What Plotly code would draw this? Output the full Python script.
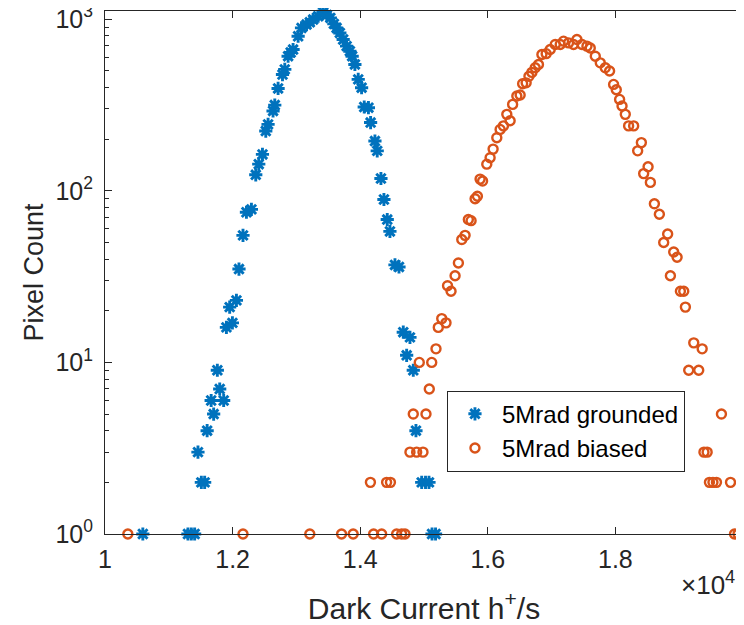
import plotly.graph_objects as go

# Dark current (units of 1e4 h+/s) and pixel counts
grounded_x = [1.0593, 1.1300, 1.1353, 1.1405, 1.1457, 1.1510, 1.1562, 1.1601, 1.1664, 1.1703,
              1.1761, 1.1798, 1.1860, 1.1903, 1.1954, 1.1997, 1.2060, 1.2100, 1.2163, 1.2217,
              1.2295, 1.2363, 1.2410, 1.2468, 1.2520, 1.2556, 1.2634, 1.2661, 1.2713, 1.2782,
              1.2818, 1.2870, 1.2910, 1.2948, 1.3027, 1.3080, 1.3159, 1.3210, 1.3262, 1.3341,
              1.3419, 1.3477, 1.3532, 1.3587, 1.3630, 1.3681, 1.3733, 1.3787, 1.3838, 1.3874,
              1.3917, 1.3969, 1.4022, 1.4063, 1.4129, 1.4163, 1.4231, 1.4267, 1.4325, 1.4372,
              1.4424, 1.4466, 1.4545, 1.4608, 1.4675, 1.4728, 1.4780, 1.4832, 1.4874, 1.4964,
              1.5024, 1.5078, 1.5126, 1.5181]
grounded_count = [1, 1, 1, 1, 3, 2, 2, 4, 6, 5,
                  9, 7, 6, 16, 21, 17, 23, 35, 55, 75,
                  78, 124, 143, 163, 223, 244, 292, 316, 395, 476,
                  510, 609, 640, 666, 796, 890, 931, 960, 996, 1041,
                  1100, 1060, 1018, 940, 890, 832, 762, 697, 651, 609,
                  545, 446, 399, 308, 305, 250, 195, 171, 118, 89,
                  68, 58, 37, 36, 15, 11, 14, 9, 4, 2,
                  2, 2, 1, 1]

biased_x = [1.0358, 1.2163, 1.3210, 1.3708, 1.3890, 1.4160, 1.4210, 1.4336, 1.4414, 1.4474,
            1.4571, 1.4650, 1.4702, 1.4780, 1.4832, 1.4885, 1.4926, 1.4984, 1.5031, 1.5083,
            1.5121, 1.5188, 1.5224, 1.5278, 1.5345, 1.5369, 1.5424, 1.5487, 1.5539, 1.5592,
            1.5644, 1.5695, 1.5738, 1.5801, 1.5837, 1.5879, 1.5918, 1.5984, 1.6036, 1.6083,
            1.6141, 1.6193, 1.6245, 1.6298, 1.6350, 1.6389, 1.6455, 1.6507, 1.6546, 1.6601,
            1.6645, 1.6691, 1.6743, 1.6794, 1.6848, 1.6915, 1.6978, 1.7057, 1.7135, 1.7187,
            1.7265, 1.7344, 1.7397, 1.7476, 1.7554, 1.7606, 1.7685, 1.7763, 1.7841, 1.7909,
            1.7972, 1.8014, 1.8066, 1.8104, 1.8155, 1.8207, 1.8286, 1.8349, 1.8407, 1.8443,
            1.8512, 1.8548, 1.8611, 1.8689, 1.8757, 1.8819, 1.8862, 1.8914, 1.8967, 1.9019,
            1.9071, 1.9097, 1.9149, 1.9228, 1.9306, 1.9360, 1.9388, 1.9438, 1.9474, 1.9529,
            1.9584, 1.9662, 1.9804, 1.9867, 1.9922, 1.9976]
biased_count = [1, 1, 1, 1, 1, 2, 1, 1, 2, 2,
                1, 1, 1, 3, 5, 3, 10, 3, 5, 7,
                10, 12, 16, 18, 17, 28, 26, 32, 38, 52,
                55, 68, 67, 90, 93, 117, 114, 143, 156, 175,
                204, 228, 239, 279, 256, 319, 357, 362, 421, 426,
                465, 490, 521, 545, 623, 630, 666, 713, 713, 745,
                728, 713, 762, 713, 697, 680, 609, 557, 521, 499,
                417, 388, 341, 312, 279, 239, 239, 171, 191, 126,
                138, 112, 84, 73, 50, 56, 32, 44, 41, 26,
                26, 21, 9, 13, 9, 12, 3, 3, 2, 2,
                2, 5, 2, 1, 1, 1]

x_ticks = [1.0, 1.2, 1.4, 1.6, 1.8, 2.0]
x_ticktext = ["1", "1.2", "1.4", "1.6", "1.8", "2"]
y_ticks = [1, 10, 100, 1000]
y_ticktext = ["10<sup>0</sup>", "10<sup>1</sup>", "10<sup>2</sup>", "10<sup>3</sup>"]
y_minor_ticks = [m * d for d in (1, 10, 100) for m in range(2, 10)]

BLUE = "#0072BD"
ORANGE = "#D95319"
AX = "#262626"

fig = go.Figure()
fig.add_trace(go.Scatter(
    x=grounded_x, y=grounded_count, mode="markers", name="5Mrad grounded",
    cliponaxis=False,
    marker=dict(symbol="asterisk-open", size=11, color=BLUE,
                line=dict(color=BLUE, width=2.9))))
fig.add_trace(go.Scatter(
    x=biased_x, y=biased_count, mode="markers", name="5Mrad biased",
    cliponaxis=False,
    marker=dict(symbol="circle-open", size=9, color=ORANGE,
                line=dict(color=ORANGE, width=2.4))))

fig.update_layout(
    width=744, height=625,
    margin=dict(l=97, r=9, t=3, b=99),
    plot_bgcolor="white", paper_bgcolor="white",
    font=dict(family="Liberation Sans, Arial, sans-serif", size=25, color=AX),
    legend=dict(x=0.536, y=0.274, xanchor="left", yanchor="top",
                bgcolor="white", bordercolor=AX, borderwidth=1,
                tracegroupgap=0, itemwidth=44,
                font=dict(size=24, color="black")),
)
fig.update_xaxes(
    range=[1, 2], tickvals=x_ticks, ticktext=x_ticktext,
    ticks="inside", ticklen=7, tickcolor=AX, mirror="allticks",
    showline=True, linecolor=AX, linewidth=1, showgrid=False, zeroline=False,
    automargin=False, ticklabelstandoff=3, ticklabeloverflow="allow",
    title=dict(text="Dark Current h<sup>+</sup>/s", font=dict(size=30), standoff=25),
)
fig.update_yaxes(
    type="log", range=[0, 3.048], tickvals=y_ticks, ticktext=y_ticktext,
    ticks="inside", ticklen=7, tickcolor=AX, mirror="allticks",
    showline=True, linecolor=AX, linewidth=1, showgrid=False, zeroline=False,
    automargin=False, ticklabelstandoff=6, ticklabeloverflow="allow",
    minor=dict(ticks="inside", ticklen=4, tickcolor=AX, showgrid=False,
               tickmode="array", tickvals=y_minor_ticks),
    title=dict(text="Pixel Count", font=dict(size=27), standoff=4),
)
fig.add_annotation(
    text="×10<sup>4</sup>", xref="paper", yref="paper",
    x=0.9, y=-0.094, xanchor="left", yanchor="middle",
    showarrow=False, font=dict(size=26, color=AX))

fig.write_html("out.html")
